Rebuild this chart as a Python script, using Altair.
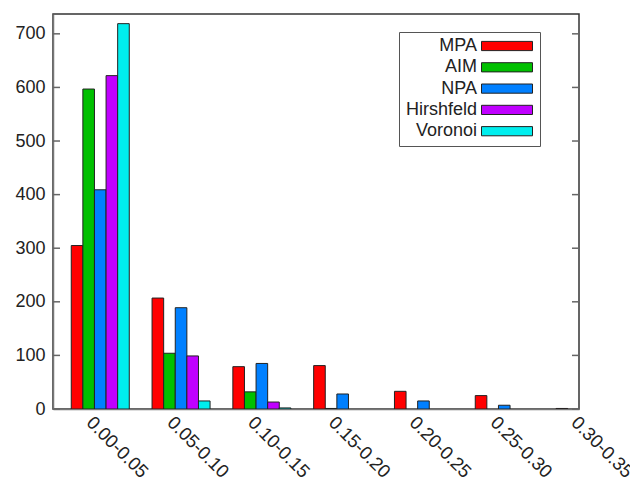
import altair as alt
import pandas as pd

categories = ["0.00-0.05", "0.05-0.10", "0.10-0.15", "0.15-0.20",
              "0.20-0.25", "0.25-0.30", "0.30-0.35"]
series = ["MPA", "AIM", "NPA", "Hirshfeld", "Voronoi"]
colors = ["#ff0000", "#00c000", "#0080ff", "#c000ff", "#00eeee"]

mpa = [305, 207, 79, 81, 33, 25, 1]
aim = [597, 104, 32, 1, 0, 0, 0]
npa = [409, 189, 85, 28, 15, 7, 0]
hirshfeld = [622, 99, 13, 0, 0, 0, 0]
voronoi = [719, 15, 2, 0, 0, 0, 0]
values = [mpa, aim, npa, hirshfeld, voronoi]

y_ticks = [0, 100, 200, 300, 400, 500, 600, 700]

W, H = 526, 395
BW = 0.1436  # width of one bar in group units

rows = []
for si, (name, vals) in enumerate(zip(series, values)):
    for gi, v in enumerate(vals):
        if v > 0:
            x0 = gi + (si - 2.5) * BW
            rows.append(dict(series=name, group=gi, x0=x0, x1=x0 + BW, value=v))
df = pd.DataFrame(rows)
ticks_df = pd.DataFrame({"v": y_ticks})
cat_df = pd.DataFrame({"gi": list(range(len(categories))), "label": categories})

xscale = alt.Scale(domain=[-0.585, 5.925], nice=False, zero=False)
yscale = alt.Scale(domain=[0, 737], nice=False, zero=True)

x_axis = alt.Axis(labels=False, ticks=False, grid=False, title=None)
y_axis = alt.Axis(values=y_ticks, tickSize=0, grid=False, title=None,
                  labelPadding=8, labelFontSize=18)

# legend swatch drawn to the right of the label (symbol size 100 -> unit = 5px)
swatch_path = "M13.7,-0.92H23.9V0.92H13.7Z"

bars = alt.Chart(df).mark_bar(stroke="#222", strokeWidth=1, clip=True).encode(
    x=alt.X("x0:Q", scale=xscale, axis=x_axis),
    x2="x1:Q",
    y=alt.Y("value:Q", scale=yscale, axis=y_axis),
    y2=alt.datum(0),
    color=alt.Color("series:N", scale=alt.Scale(domain=series, range=colors),
                    legend=alt.Legend(title=None, orient="none", legendX=346, legendY=18,
                                      symbolType=swatch_path, symbolSize=100,
                                      symbolStrokeColor="#222", symbolStrokeWidth=1,
                                      labelAlign="right", labelOffset=55,
                                      labelFontSize=18, labelColor="#222",
                                      strokeColor="#555", fillColor="white",
                                      padding=5, rowPadding=3.3)),
)

left_ticks = alt.Chart(ticks_df).mark_rule(color="#666", strokeWidth=1.5).encode(
    y=alt.Y("v:Q", scale=yscale, axis=y_axis),
    x=alt.value(0), x2=alt.value(7),
)
right_ticks = alt.Chart(ticks_df).mark_rule(color="#666", strokeWidth=1.5).encode(
    y=alt.Y("v:Q", scale=yscale, axis=y_axis),
    x=alt.value(W - 7), x2=alt.value(W),
)

xlabels = alt.Chart(cat_df).mark_text(
    angle=45, align="left", baseline="top", fontSize=18.5, color="#222",
    dx=0, dy=6,
).encode(
    x=alt.X("gi:Q", scale=xscale, axis=x_axis),
    y=alt.value(H),
    text="label:N",
)

chart = alt.layer(bars, left_ticks, right_ticks, xlabels).properties(
    width=W, height=H,
    autosize=alt.AutoSizeParams(type="none"),
    padding={"left": 45, "top": 6, "right": 51, "bottom": 70},
).configure(font="Liberation Sans").configure_axis(
    labelColor="#222", domainColor="#777", domainWidth=1.5,
).configure_view(stroke="#333", strokeWidth=1.5)

chart.save("out.html", embed_options={"renderer": "svg", "actions": False})
